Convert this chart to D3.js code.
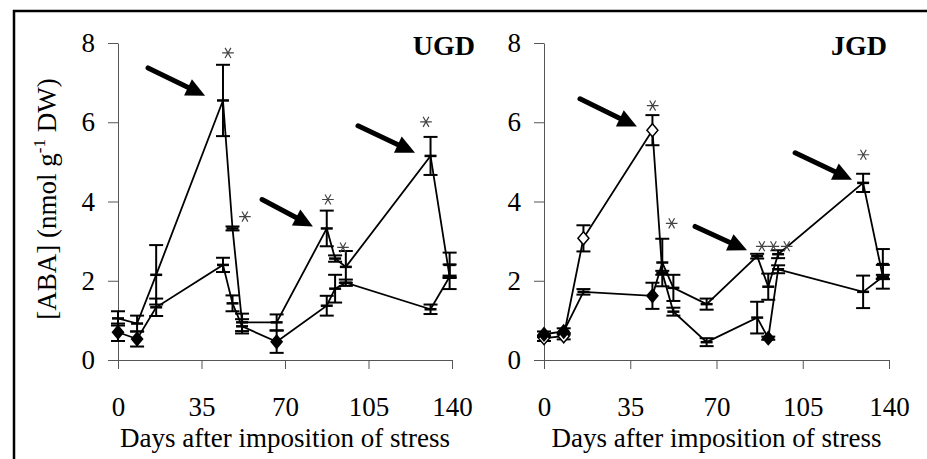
<!DOCTYPE html>
<html>
<head>
<meta charset="utf-8">
<script src="https://cdn.jsdelivr.net/npm/d3@7"></script>
<style>
  body { margin: 0; background: #fff; }
  svg { display: block; font-family: 'Liberation Serif', 'Times New Roman', serif; }
  .axis path, .axis line { stroke: #555; stroke-width: 1; }
  .axis text { font-size: 27px; fill: #000; font-family: 'Liberation Serif', 'Times New Roman', serif; }
</style>
</head>
<body>
<div id="container"></div>
<script>
// tick labels
const xTicks = [0, 35, 70, 105, 140];
const yTicks = [0, 2, 4, 6, 8];

// UGD panel
const daysUGD = [0, 8, 16, 44, 48, 52, 66.5, 87.5, 91, 95.5, 131, 139];
const ugdStress = [1.05, 0.92, 2.15, 6.55, 3.32, 0.95, 0.95, 3.32, 2.56, 2.35, 5.15, 2.1];
const ugdStressErr = [0.18, 0.2, 0.75, 0.9, 0.05, 0.22, 0.2, 0.45, 0.08, 0.4, 0.48, 0.31];
const ugdStressMk = ['dash', 'dash', 'dash', 'dash', 'dash', 'dash', 'dash', 'dash', 'dash', 'dash', 'dash', 'dash'];
const ugdControl = [0.7, 0.53, 1.33, 2.4, 1.43, 0.85, 0.46, 1.37, 1.8, 1.95, 1.28, 2.1];
const ugdControlErr = [0.22, 0.19, 0.22, 0.18, 0.2, 0.18, 0.28, 0.25, 0.35, 0.08, 0.12, 0.03];
const ugdControlMk = ['fill', 'fill', 'dash', 'dash', 'dash', 'dash', 'fill', 'dash', 'dash', 'dash', 'dash', 'dash'];
const ugdExtraDay = [139];
const ugdExtra = [2.4];
const ugdExtraErr = [0.31];
// peaks marked with arrows: [tail day, tail value, tip day, tip value]
const ugdArrows = [[12.6, 7.37, 36.5, 6.67], [60.4, 4.05, 81.7, 3.37], [100.6, 5.91, 124.5, 5.23]];
// significance stars: [day, value]
const ugdStars = [[46.1, 7.75], [53.2, 3.62], [88, 4.05], [94.3, 2.84], [129.1, 6.01]];

// JGD panel
const daysJGD = [0, 8, 16, 44, 48, 52.5, 66, 86.5, 91, 95, 129.5, 137.5];
const jgdA = [0.55, 0.6, 3.07, 5.8, 2.2, 1.22, 0.45, 1.07, 0.55, 2.29, 1.72, 2.1];
const jgdAErr = [0.07, 0.08, 0.33, 0.38, 0.05, 0.1, 0.1, 0.4, 0.04, 0.1, 0.41, 0.05];
const jgdAMk = ['open', 'open', 'open', 'open', 'dash', 'dash', 'dash', 'dash', 'fill', 'dash', 'dash', 'dash'];
const jgdB = [0.65, 0.72, 1.72, 1.62, 2.46, 1.82, 1.41, 2.62, 1.85, 2.67, 4.47, 2.1];
const jgdBErr = [0.07, 0.08, 0.07, 0.33, 0.6, 0.33, 0.14, 0.06, 0.33, 0.1, 0.23, 0.3];
const jgdBMk = ['fill', 'fill', 'dash', 'fill', 'dash', 'dash', 'dash', 'dash', 'dash', 'dash', 'dash', 'dash'];
const jgdExtraDay = [137.5];
const jgdExtra = [2.42];
const jgdExtraErr = [0.38];
const jgdArrows = [[14.6, 6.59, 37.7, 5.89], [61.3, 3.37, 82.4, 2.77], [101.9, 5.23, 125, 4.55]];
const jgdStars = [[44.1, 6.42], [51.8, 3.45], [88.4, 2.87], [93.1, 2.87], [98.5, 2.87], [129.6, 5.18]];

const width = 927, height = 459;
const svg = d3.select('#container').append('svg')
  .attr('width', width)
  .attr('height', height);

// outer frame (only left and top edges are in view)
svg.append('path')
  .attr('d', `M14,${height + 2}V11H${width + 2}`)
  .attr('fill', 'none')
  .attr('stroke', '#000')
  .attr('stroke-width', 2.5);

const y = d3.scaleLinear().domain([0, 8]).range([360, 43]);

function zip(days, vals, errs, mks) {
  return days.map((d, i) => ({ day: d, v: vals[i], e: errs[i], mk: mks ? mks[i] : 'dash' }));
}

function drawPanel(cfg) {
  const x = d3.scaleLinear().domain([0, 140]).range(cfg.range);
  const g = svg.append('g');

  g.append('g')
    .attr('class', 'axis')
    .attr('transform', `translate(${cfg.range[0]},0)`)
    .call(d3.axisLeft(y).tickValues(yTicks).tickSize(10).tickSizeOuter(0).tickPadding(13));

  g.append('g')
    .attr('class', 'axis')
    .attr('transform', `translate(0,${y(0)})`)
    .call(d3.axisBottom(x).tickValues(xTicks).tickSize(9).tickSizeOuter(0).tickPadding(28));

  g.append('text')
    .attr('x', (cfg.range[0] + cfg.range[1]) / 2)
    .attr('y', 447)
    .attr('text-anchor', 'middle')
    .style('font-size', '27px')
    .text('Days after imposition of stress');

  g.append('text')
    .attr('x', cfg.labelX)
    .attr('y', 55)
    .attr('text-anchor', 'end')
    .style('font-size', '28px')
    .style('font-weight', 'bold')
    .text(cfg.label);

  const line = d3.line().x(d => x(d.day)).y(d => y(d.v));

  cfg.series.forEach(s => {
    g.append('path')
      .datum(s)
      .attr('d', line)
      .attr('fill', 'none')
      .attr('stroke', '#000')
      .attr('stroke-width', 1.8);
  });

  const allPts = cfg.series.flat().concat(cfg.extra);

  // error bars
  const eb = g.append('g').attr('stroke', '#000').attr('stroke-width', 2);
  allPts.forEach(d => {
    const cx = x(d.day);
    eb.append('line').attr('x1', cx).attr('x2', cx).attr('y1', y(d.v + d.e)).attr('y2', y(d.v - d.e));
    [d.v + d.e, d.v - d.e].forEach(v => {
      eb.append('line').attr('x1', cx - 7).attr('x2', cx + 7).attr('y1', y(v)).attr('y2', y(v));
    });
  });

  // markers
  allPts.forEach(d => {
    const cx = x(d.day), cy = y(d.v);
    if (d.mk === 'dash') {
      g.append('line')
        .attr('x1', cx - 6).attr('x2', cx + 6).attr('y1', cy).attr('y2', cy)
        .attr('stroke', '#000').attr('stroke-width', 2.5);
    } else {
      g.append('path')
        .attr('d', 'M0,-6.5L5.5,0L0,6.5L-5.5,0Z')
        .attr('transform', `translate(${cx},${cy})`)
        .attr('fill', d.mk === 'fill' ? '#000' : '#fff')
        .attr('stroke', '#000')
        .attr('stroke-width', 1.5);
    }
  });

  // arrows
  cfg.arrows.forEach(a => {
    const x1 = x(a[0]), y1 = y(a[1]), x2 = x(a[2]), y2 = y(a[3]);
    const ang = Math.atan2(y2 - y1, x2 - x1);
    const headLen = 19, headW = 9;
    const bx = x2 - headLen * Math.cos(ang), by = y2 - headLen * Math.sin(ang);
    g.append('line')
      .attr('x1', x1).attr('y1', y1).attr('x2', bx + 2 * Math.cos(ang)).attr('y2', by + 2 * Math.sin(ang))
      .attr('stroke', '#000').attr('stroke-width', 5).attr('stroke-linecap', 'round');
    const px = -Math.sin(ang), py = Math.cos(ang);
    g.append('path')
      .attr('d', `M${x2},${y2}L${bx + headW * px},${by + headW * py}L${bx - headW * px},${by - headW * py}Z`)
      .attr('fill', '#000');
  });

  // stars, drawn as six-armed asterisks
  const star = d3.symbol().type(d3.symbolAsterisk).size(95);
  cfg.stars.forEach(s => {
    g.append('path')
      .attr('d', star)
      .attr('transform', `translate(${x(s[0])},${y(s[1])}) rotate(90)`)
      .attr('fill', 'none')
      .attr('stroke', '#444')
      .attr('stroke-width', 1.2);
  });
}

drawPanel({
  range: [118, 452],
  label: 'UGD',
  labelX: 475,
  series: [
    zip(daysUGD, ugdStress, ugdStressErr, ugdStressMk),
    zip(daysUGD, ugdControl, ugdControlErr, ugdControlMk)
  ],
  extra: zip(ugdExtraDay, ugdExtra, ugdExtraErr),
  arrows: ugdArrows,
  stars: ugdStars
});

drawPanel({
  range: [544, 889],
  label: 'JGD',
  labelX: 887,
  series: [
    zip(daysJGD, jgdA, jgdAErr, jgdAMk),
    zip(daysJGD, jgdB, jgdBErr, jgdBMk)
  ],
  extra: zip(jgdExtraDay, jgdExtra, jgdExtraErr),
  arrows: jgdArrows,
  stars: jgdStars
});

// y axis title with superscript
const yl = svg.append('text')
  .attr('transform', 'translate(56,199) rotate(-90)')
  .attr('text-anchor', 'middle')
  .style('font-size', '27px');
yl.append('tspan').text('[ABA] (nmol g');
yl.append('tspan').attr('dy', -11).style('font-size', '17px').text('-1');
yl.append('tspan').attr('dy', 11).text(' DW)');
</script>
</body>
</html>
